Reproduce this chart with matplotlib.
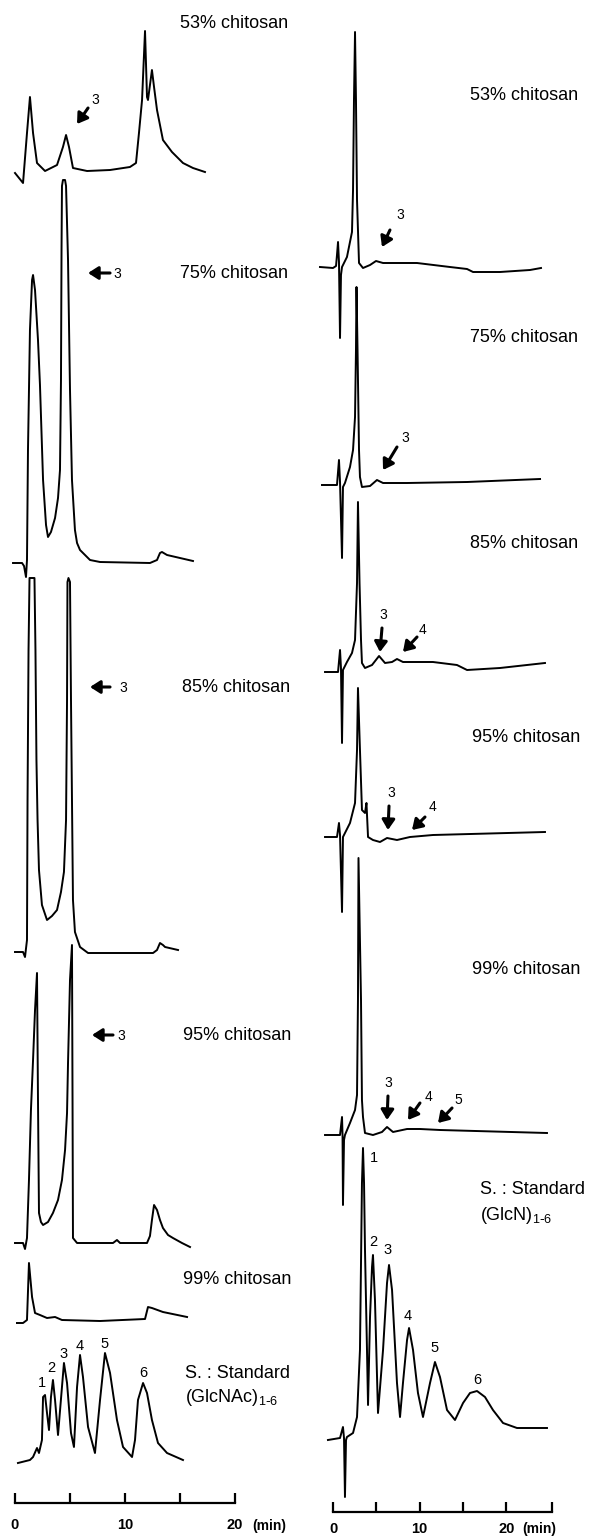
import matplotlib
matplotlib.use("Agg")
import matplotlib.pyplot as plt

plt.rcParams['font.family'] = ['Liberation Sans', 'DejaVu Sans']

# ---- left column: GlcNAc oligomers (time in min, detector signal) ----
t_l53 = [0, .73, 1.09, 1.36, 1.64, 2.0, 2.73, 3.82, 4.36, 4.64, 4.91, 5.27, 6.55, 8.64, 10.45, 11.0,
         11.27, 11.55, 11.82, 12.0, 12.09, 12.45, 12.64, 12.91, 13.45, 14.27, 15.27, 16.18, 17.27]
s_l53 = [-2, -12, 38, 74, 38, 8, 0, 6, 24, 36, 24, 3, 0, 1, 4, 8, 38, 71, 140, 74, 71, 101, 84, 61, 31, 19, 8, 3, -1]

t_l75 = [-0.18, 0.64, 0.82, 1.0, 1.09, 1.18, 1.36, 1.55, 1.64, 1.82, 2.09, 2.27, 2.55, 2.82, 3.0, 3.27, 3.64,
         3.91, 4.09, 4.18, 4.23, 4.27, 4.36, 4.55, 4.64, 4.82, 5.0, 5.18, 5.45, 5.64, 5.91, 6.82, 7.73, 12.27,
         12.91, 13.18, 13.36, 13.82, 15.0, 16.18]
s_l75 = [0, 0, -3, -14, 3, 113, 233, 283, 288, 273, 223, 178, 83, 38, 26, 31, 45, 65, 93, 183, 313, 377, 383,
         383, 377, 303, 173, 83, 33, 20, 13, 3, 1, 0, 3, 10, 11, 8, 5, 2]

t_l85 = [0, .73, .91, 1.09, 1.14, 1.23, 1.32, 1.77, 1.86, 1.95, 2.05, 2.18, 2.45, 2.91, 3.36, 3.82, 4.18, 4.45,
         4.64, 4.73, 4.77, 4.86, 5.0, 5.09, 5.18, 5.27, 5.45, 5.91, 6.64, 12.55, 12.91, 13.18, 13.45, 13.64, 14.82]
s_l85 = [1, 1, -4, 13, 153, 303, 375, 375, 303, 193, 133, 83, 48, 33, 37, 43, 61, 81, 133, 253, 371, 375, 371,
         253, 153, 53, 21, 6, 0, 0, 3, 10, 8, 6, 3]

t_l95 = [0, .73, .91, 1.09, 1.27, 1.45, 1.64, 1.82, 2.0, 2.09, 2.18, 2.36, 2.55, 3.0, 3.45, 3.91, 4.27, 4.55,
         4.73, 4.82, 5.0, 5.18, 5.23, 5.27, 5.64, 8.91, 9.27, 9.55, 12.0, 12.27, 12.45, 12.64, 12.91, 13.18,
         13.45, 13.91, 14.36, 15.18, 15.91]
s_l95 = [0, 0, -6, 5, 63, 133, 183, 233, 270, 143, 30, 21, 18, 21, 30, 43, 63, 93, 130, 180, 263, 298, 143, 5,
         0, 0, 3, 0, 0, 7, 23, 38, 33, 23, 15, 8, 5, 0, -4]

t_l99 = [0.18, .73, 1.09, 1.27, 1.55, 1.82, 2.27, 2.91, 3.64, 4.27, 7.73, 11.82, 12.09, 12.45, 13.45, 15.64]
s_l99 = [-2, -2, 1, 58, 24, 8, 6, 3, 4, 1, 0, 2, 14, 13, 9, 4]

t_lstd = [.27, 1.36, 1.64, 2.0, 2.18, 2.45, 2.55, 2.73, 2.91, 3.09, 3.27, 3.45, 3.64, 3.91, 4.27, 4.45, 4.73,
          5.09, 5.36, 5.64, 5.91, 6.18, 6.64, 7.27, 7.73, 8.18, 8.64, 9.27, 9.82, 10.64, 10.91, 11.18, 11.64,
          12.0, 12.45, 13.0, 13.82, 15.27]
s_lstd = [-3, 0, 3, 12, 7, 20, 63, 65, 47, 30, 63, 80, 60, 25, 73, 97, 77, 27, 13, 73, 105, 83, 33, 7, 60, 107,
          87, 40, 13, 3, 20, 60, 77, 67, 40, 17, 7, 0]

# ---- right column: GlcN oligomers ----
t_r53 = [-1.5, 0, .35, .46, .58, .69, .81, .92, 1.04, 1.61, 2.19, 2.31, 2.42, 2.54, 2.65, 2.77, 3.0, 3.46,
         4.27, 4.96, 5.77, 9.69, 13.49, 15.46, 16.15, 19.26, 22.72, 23.99]
s_r53 = [0, -1, 1, 12, 25, 5, -71, -8, 0, 10, 35, 77, 167, 235, 167, 67, 4, -1, 2, 6, 4, 4, 0, -2, -5, -5, -3, -1]

t_r75 = [-1.27, .46, .69, .81, 1.04, 1.15, 1.38, 1.96, 2.31, 2.54, 2.65, 2.71, 2.83, 3.0, 3.11, 3.34, 4.27,
         5.07, 5.77, 8.54, 15.46, 23.88]
s_r75 = [0, 0, 25, 3, -73, -2, 2, 18, 35, 68, 135, 198, 135, 35, 8, -2, -1, 5, 2, 2, 3, 6]

t_r85 = [-.92, .58, .81, .92, 1.04, 1.15, 1.61, 2.19, 2.54, 2.77, 2.88, 3.06, 3.23, 3.34, 3.69, 4.5, 5.31,
         6.0, 6.81, 7.38, 8.07, 11.53, 14.3, 15.46, 19.26, 24.45]
s_r85 = [0, 0, 22, 4, -71, 2, 10, 19, 32, 89, 170, 89, 32, 9, 4, 7, 16, 9, 10, 13, 10, 10, 7, 2, 4, 9]

t_r95 = [-.92, .46, .69, .81, 1.04, 1.15, 1.96, 2.54, 2.77, 2.88, 3.11, 3.34, 3.69, 3.86, 4.04, 4.61, 5.42,
         6.23, 7.38, 8.88, 11.53, 24.45]
s_r95 = [0, 0, 14, 2, -75, 0, 14, 34, 87, 149, 87, 27, 24, 34, 0, -3, -5, -1, -3, 0, 2, 5]

t_r99 = [-.92, .81, 1.04, 1.1, 1.15, 1.27, 1.38, 1.96, 2.54, 2.77, 2.88, 2.94, 3.23, 3.34, 3.46, 3.69, 4.61,
         5.65, 6.23, 6.92, 8.54, 10.03, 12.34, 24.68]
s_r99 = [0, 0, 18, 0, -70, -5, 0, 12, 25, 40, 135, 277, 135, 35, 18, 2, 0, 3, 8, 3, 6, 6, 5, 2]

t_rstd = [-.58, .81, 1.15, 1.27, 1.38, 1.5, 1.61, 2.31, 2.77, 3.11, 3.34, 3.46, 3.58, 3.69, 3.92, 4.04, 4.27,
          4.5, 4.61, 4.84, 5.19, 5.77, 6.23, 6.46, 6.81, 7.38, 7.73, 8.07, 8.54, 8.77, 9.23, 9.8, 10.38, 11.19,
          11.76, 12.34, 13.15, 14.07, 15.0, 15.8, 16.61, 17.53, 18.45, 19.61, 21.22, 24.68]
s_rstd = [-3, -1, 10, -1, -60, -3, 0, 4, 20, 87, 254, 289, 254, 187, 87, 32, 120, 170, 182, 137, 24, 87, 154,
          172, 147, 54, 20, 54, 97, 109, 87, 44, 20, 54, 75, 60, 27, 17, 34, 44, 46, 40, 27, 14, 9, 9]

labels = ['53% chitosan', '75% chitosan', '85% chitosan', '95% chitosan', '99% chitosan']
peak_names = ['1', '2', '3', '4', '5', '6']

fig = plt.figure(figsize=(5.92, 15.36), dpi=100)
axL = fig.add_axes([0, 0, 300 / 592, 1])
axR = fig.add_axes([300 / 592, 0, 292 / 592, 1])
axL.set_xlim(-15 / 11.0, 285 / 11.0)
axR.set_xlim(-33 / 8.67, 259 / 8.67)
for ax in (axL, axR):
    ax.set_ylim(1536, 0)
    ax.patch.set_alpha(0)
    for s in ('left', 'right', 'top'):
        ax.spines[s].set_visible(False)
    ax.set_yticks([])

# baselines (vertical stacking of the traces)
left = [(t_l53, s_l53, 171), (t_l75, s_l75, 563), (t_l85, s_l85, 953),
        (t_l95, s_l95, 1243), (t_l99, s_l99, 1321), (t_lstd, s_lstd, 1460)]
right = [(t_r53, s_r53, 267), (t_r75, s_r75, 485), (t_r85, s_r85, 672),
         (t_r95, s_r95, 837), (t_r99, s_r99, 1135), (t_rstd, s_rstd, 1437)]
for ax, traces in ((axL, left), (axR, right)):
    for t, sig, base in traces:
        ax.plot(t, [base - v for v in sig], color='black', lw=1.4, solid_joinstyle='round')

fs = 13
for ax, pos in ((axL, [(15.0, 23), (15.0, 273), (15.18, 687), (15.27, 1035), (15.27, 1279)]),
                (axR, [(15.8, 95), (15.8, 337), (15.8, 543), (16.03, 737), (16.03, 970)])):
    for lab, (x, y) in zip(labels, pos):
        ax.text(x, y, lab, fontsize=fs, ha='left', va='center')

axL.text(15.45, 1373, 'S. : Standard', fontsize=fs, ha='left', va='center')
axL.text(15.45, 1398, r'(GlcNAc)$_{\mathregular{1\text{-}6}}$', fontsize=fs, ha='left', va='center')
axR.text(16.9, 1190, 'S. : Standard', fontsize=fs, ha='left', va='center')
axR.text(17.0, 1216, r'(GlcN)$_{\mathregular{1\text{-}6}}$', fontsize=fs, ha='left', va='center')

# peak numbers of the standards
for lab, (x, y) in zip(peak_names, [(2.45, 1383), (3.27, 1368), (4.45, 1354), (5.91, 1346), (8.18, 1344), (11.64, 1373)]):
    axL.text(x, y, lab, fontsize=10.5, ha='center', va='center')
for lab, (x, y) in zip(peak_names, [(4.73, 1158), (4.61, 1242), (6.34, 1250), (8.65, 1316), (11.76, 1348), (16.61, 1380)]):
    axR.text(x, y, lab, fontsize=10.5, ha='center', va='center')

# arrows pointing at oligomer peaks: (label, text pos, tail, head)
arrow_style = dict(arrowstyle='-|>,head_length=0.5,head_width=0.32', lw=2.2, color='black',
                   shrinkA=0, shrinkB=0, mutation_scale=12)
left_arrows = [('3', (7.27, 100), (6.64, 108), (5.64, 124)),
               ('3', (9.27, 274), (8.64, 273), (6.64, 273)),
               ('3', (9.82, 688), (8.64, 687), (6.82, 687)),
               ('3', (9.64, 1036), (8.91, 1035), (7.0, 1035))]
right_arrows = [('3', (7.73, 215), (6.57, 230), (5.65, 247)),
                ('3', (8.3, 438), (7.38, 447), (5.77, 470)),
                ('3', (5.77, 615), (5.65, 628), (5.42, 652)),
                ('4', (10.38, 630), (9.69, 637), (8.07, 652)),
                ('3', (6.69, 793), (6.46, 806), (6.34, 830)),
                ('4', (11.42, 807), (10.61, 817), (9.11, 830)),
                ('3', (6.34, 1083), (6.34, 1096), (6.23, 1120)),
                ('4', (10.96, 1097), (10.03, 1103), (8.65, 1120)),
                ('5', (14.42, 1100), (13.73, 1108), (12.11, 1123))]
for ax, arrows in ((axL, left_arrows), (axR, right_arrows)):
    for lab, tp, tail, head in arrows:
        ax.annotate('', xy=head, xytext=tail, arrowprops=arrow_style)
        ax.text(tp[0], tp[1], lab, fontsize=10, ha='center', va='center')

# time scale bars: (axis, bar row, ticks, label pad, '(min)' x, label row)
for ax, ybar, ticks, pad, xmin, ylab in ((axL, 1503, [0, 5, 10, 15, 20], 11, 21.6, 1526),
                                         (axR, 1512, [0, 5, 10, 15, 20, 25.3], 7, 21.8, 1529)):
    sp = ax.spines['bottom']
    sp.set_position(('data', ybar))
    sp.set_bounds(0, ticks[-1])
    sp.set_linewidth(1.6)
    ax.set_xticks(ticks)
    ax.set_xticklabels(['0', '', '10', '', '20', ''][:len(ticks)], fontweight='bold', fontsize=10.5)
    ax.tick_params(axis='x', direction='in', length=7, width=1.6, pad=pad)
    ax.text(xmin, ylab, '(min)', fontsize=10, fontweight='bold', ha='left', va='center')

fig.savefig('out.png', dpi=100)
